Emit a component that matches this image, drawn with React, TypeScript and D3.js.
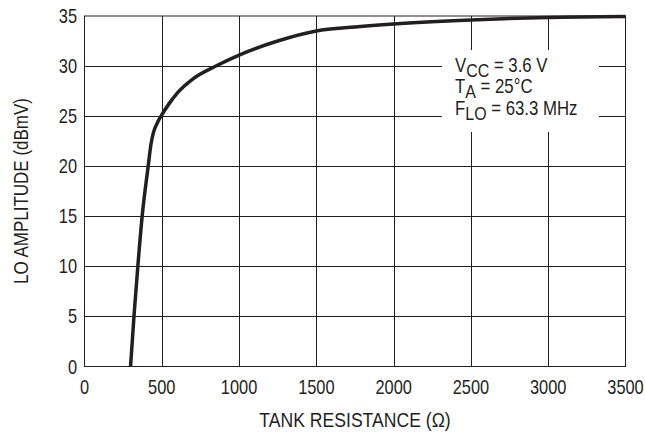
import React from "react";
import * as d3 from "d3";

const resistance = [298, 320, 345, 373, 412, 430, 445, 470, 495, 550, 600, 700, 850, 1000, 1250, 1500, 1750, 2000, 2500, 3000, 3500];
const amplitude = [0, 5, 10, 15, 20, 22.2, 23.3, 24.3, 25, 26.3, 27.3, 28.7, 30, 31.1, 32.5, 33.5, 33.9, 34.2, 34.6, 34.85, 34.95];
const xTicks = [0, 500, 1000, 1500, 2000, 2500, 3000, 3500];
const yTicks = [0, 5, 10, 15, 20, 25, 30, 35];

const W = 645, H = 437;
const M = { left: 84.5, right: 625.5, top: 16, bottom: 366.5 };
const FONT = "'Liberation Sans', Arial, sans-serif";
const INK = "#231f20";

function NText({ x, y, anchor = "start", size = 20, rotate = 0, sx = 0.82, children }: any) {
  return (
    <g transform={`translate(${x},${y}) rotate(${rotate}) scale(${sx},1)`}>
      <text x={0} y={0} textAnchor={anchor} fontFamily={FONT} fontSize={size} fill={INK}>{children}</text>
    </g>
  );
}

export default function App() {
  const x = d3.scaleLinear().domain([0, 3500]).range([M.left, M.right]);
  const y = d3.scaleLinear().domain([0, 35]).range([M.bottom, M.top]);
  const pts: [number, number][] = resistance.map((r, i) => [r, amplitude[i]]);
  const line = d3.line<[number, number]>().x(d => x(d[0])).y(d => y(d[1])).curve(d3.curveMonotoneX);

  const gapL = 442, gapR = 599;
  const vGapTop = 50, vGapBot = 132;

  return (
    <svg width={W} height={H} style={{ position: "absolute", left: 0, top: 0, background: "#fff" }}>
      {xTicks.slice(1, -1).map(t => {
        const xx = Math.round(x(t)) + 0.5;
        if (t === 2500 || t === 3000) {
          return (
            <g key={t}>
              <line x1={xx} x2={xx} y1={M.top} y2={vGapTop} stroke={INK} strokeWidth={1} />
              <line x1={xx} x2={xx} y1={vGapBot} y2={M.bottom} stroke={INK} strokeWidth={1} />
            </g>
          );
        }
        return <line key={t} x1={xx} x2={xx} y1={M.top} y2={M.bottom} stroke={INK} strokeWidth={1} />;
      })}
      {yTicks.slice(1, -1).map(t => {
        const yy = Math.round(y(t)) + 0.5;
        if (t === 25 || t === 30) {
          return (
            <g key={t}>
              <line x1={M.left} x2={gapL} y1={yy} y2={yy} stroke={INK} strokeWidth={1} />
              <line x1={gapR} x2={M.right} y1={yy} y2={yy} stroke={INK} strokeWidth={1} />
            </g>
          );
        }
        return <line key={t} x1={M.left} x2={M.right} y1={yy} y2={yy} stroke={INK} strokeWidth={1} />;
      })}
      <rect x={M.left} y={M.top} width={M.right - M.left} height={M.bottom - M.top} fill="none" stroke={INK} strokeWidth={1} />
      <path d={line(pts) || ""} fill="none" stroke={INK} strokeWidth={3.5} strokeLinejoin="round" />
      {xTicks.map(t => (
        <NText key={t} x={x(t)} y={394} anchor="middle">{t}</NText>
      ))}
      {yTicks.map(t => (
        <NText key={t} x={77} y={y(t) + 7} anchor="end">{t}</NText>
      ))}
      <NText x={355} y={427} anchor="middle" sx={0.88}>TANK RESISTANCE (Ω)</NText>
      <NText x={28} y={191} anchor="middle" rotate={-90} sx={0.85}>LO AMPLITUDE (dBmV)</NText>
      <NText x={455} y={72} sx={0.84}>V<tspan fontSize={19} dy={5}>CC</tspan><tspan dy={-5}> = 3.6 V</tspan></NText>
      <NText x={455} y={93} sx={0.84}>T<tspan fontSize={19} dy={5}>A</tspan><tspan dy={-5}> = 25°C</tspan></NText>
      <NText x={455} y={115} sx={0.84}>F<tspan fontSize={19} dy={5}>LO</tspan><tspan dy={-5}> = 63.3 MHz</tspan></NText>
    </svg>
  );
}
